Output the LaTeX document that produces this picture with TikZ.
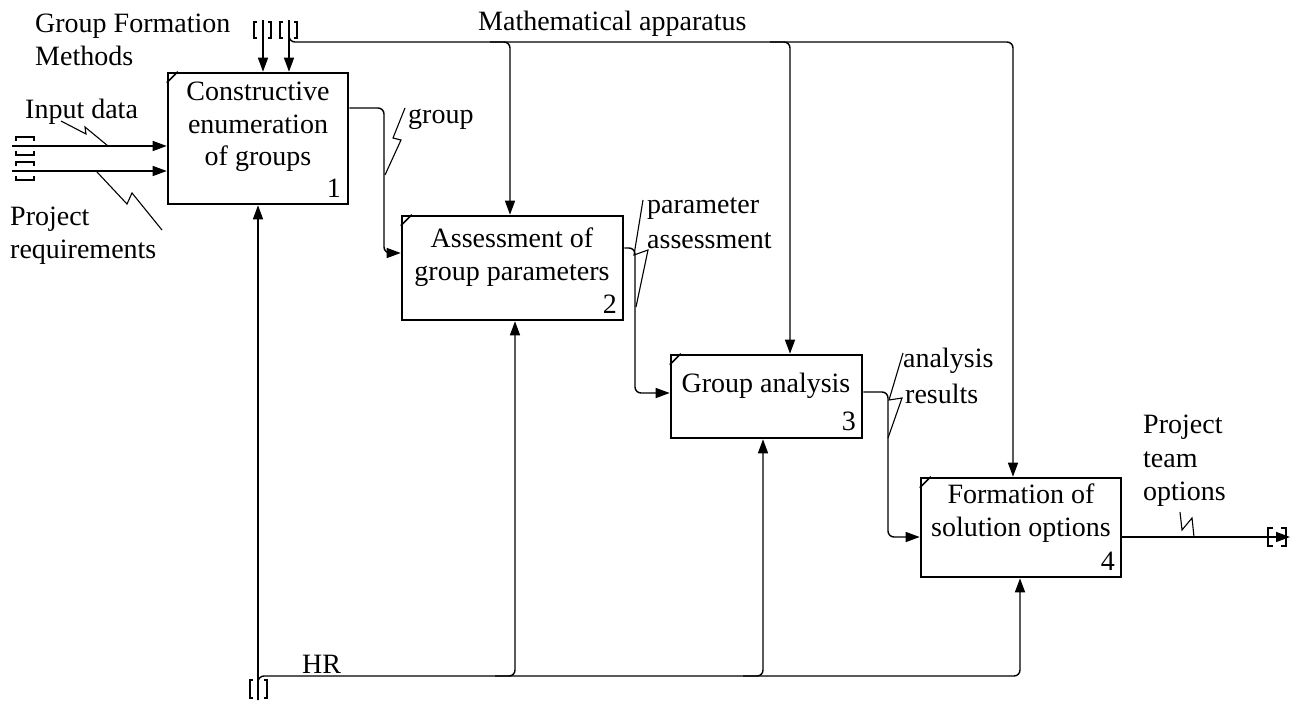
\documentclass[tikz,border=0pt]{standalone}
\usepackage{fontspec}
\setmainfont{Liberation Serif}
\usetikzlibrary{arrows.meta}
\begin{document}
\begin{tikzpicture}[x=1pt,y=-1pt,
  box/.style={draw,line width=2.6pt,inner sep=0pt},
  conn/.style={line width=1.4pt,rounded corners=6pt},
  arr/.style={conn,-{Triangle[length=14pt,width=10pt]}},
  sq/.style={line width=1.1pt},
  brk/.style={line width=1.1pt},
  lbl/.style={font=\fontsize{28}{33}\selectfont,inner sep=0pt,anchor=base west},
  ctr/.style={font=\fontsize{28}{33}\selectfont,inner sep=0pt,anchor=base},
  num/.style={font=\fontsize{28}{33}\selectfont,inner sep=0pt,anchor=base east}]
\useasboundingbox (0,0) rectangle (1293,704);
% boxes
\node[box,minimum width=180pt,minimum height=131pt] (b1) at (258,138.5) {};
\node[box,minimum width=221pt,minimum height=104pt] (b2) at (512.5,268) {};
\node[box,minimum width=191pt,minimum height=83pt] (b3) at (766.5,396.5) {};
\node[box,minimum width=200pt,minimum height=99pt] (b4) at (1021,527.5) {};
\foreach \b in {b1,b2,b3,b4}{\draw[line width=1.6pt] (\b.north west) ++(0,11) -- ++(11,-11);}
% box texts
\node[ctr] (t1a) at (258,100) {Constructive};
\node[ctr] (t1b) at (258,133) {enumeration};
\node[ctr] (t1c) at (258,165) {of groups};
\node[num] (n1) at (341,197) {1};
\node[ctr] (t2a) at (512,247) {Assessment of};
\node[ctr] (t2b) at (512,280) {group parameters};
\node[num] (n2) at (617,313) {2};
\node[ctr] (t3a) at (766,392) {Group analysis};
\node[ctr] (t3b) at (1021,503) {Formation of};
\node[ctr] (t4b) at (1021,536) {solution options};
\node[num] (n3) at (856,430) {3};
\node[num] (n4) at (1115,570) {4};
% labels
\node[lbl] (l1) at (35,32) {Group Formation};
\node[lbl] (l2) at (35,65) {Methods};
\node[lbl] (l3) at (478,30) {Mathematical apparatus};
\node[lbl] (l4) at (25,118) {Input data};
\node[lbl] (l5) at (10,225) {Project};
\node[lbl] (l6) at (10,258) {requirements};
\node[lbl] (l7) at (408,123) {group};
\node[lbl] (l8) at (647,213) {parameter};
\node[lbl] (l9) at (647,248) {assessment};
\node[lbl] (l10) at (903,367) {analysis};
\node[lbl] (l11) at (905,403) {results};
\node[lbl] (l12) at (1143,433) {Project};
\node[lbl] (l13) at (1143,467) {team};
\node[lbl] (l14) at (1143,500) {options};
\node[lbl] (l15) at (302,673) {HR};
% inputs
\coordinate (in1) at (12,146);
\coordinate (in2) at (12,171);
\draw[arr] (in1) -- (b1.west |- in1);
\draw[arr] (in2) -- (b1.west |- in2);
\foreach \yy in {146,171}{
  \draw[brk] (16,\yy-5) -- (16,\yy-9) -- (34,\yy-9) -- (34,\yy-5);
  \draw[brk] (16,\yy+5) -- (16,\yy+9) -- (34,\yy+9) -- (34,\yy+5);}
% controls
\coordinate (c1) at (263,20);
\coordinate (c2) at (289,20);
\draw[arr] (c1) -- (b1.north -| c1);
\draw[arr] (c2) -- (b1.north -| c2);
\foreach \xx in {263,289}{
  \draw[brk] (\xx-6,22) -- (\xx-9,22) -- (\xx-9,38) -- (\xx-6,38);
  \draw[brk] (\xx+5,22) -- (\xx+8,22) -- (\xx+8,38) -- (\xx+5,38);}
\draw[arr] (c2) -- (289,42) -- (1013,42) -- (b4.north -| 1013,0);
\draw[arr] (490,42) -- (510,42) -- (b2.north -| 510,0);
\draw[arr] (770,42) -- (790,42) -- (b3.north -| 790,0);
% mechanisms
\coordinate (m0) at (258,700);
\draw[arr] (m0) -- (b1.south -| m0);
\draw[arr] (m0) -- (258,676) -- (1020,676) -- (b4.south -| 1020,0);
\draw[arr] (495,676) -- (515,676) -- (b2.south -| 515,0);
\draw[arr] (743,676) -- (763,676) -- (b3.south -| 763,0);
\draw[brk] (253,680) -- (250,680) -- (250,698) -- (253,698);
\draw[brk] (264,680) -- (267,680) -- (267,698) -- (264,698);
% outputs
\draw[arr] (b1.east |- 0,108) -- (384,108) -- (384,253) -- (b2.west |- 0,253);
\draw[arr] (b2.east |- 0,248) -- (635,248) -- (635,393) -- (b3.west |- 0,393);
\draw[arr] (b3.east |- 0,392) -- (888,392) -- (888,537) -- (b4.west |- 0,537);
\coordinate (out) at (1290,537);
\draw[arr] (b4.east |- out) -- (out);
\draw[brk] (1273,528) -- (1268,528) -- (1268,546) -- (1273,546);
\draw[brk] (1281,528) -- (1286,528) -- (1286,546) -- (1281,546);
% squiggles
\draw[sq] (61,121) -- (86,134) -- (85,127) -- (108,146);
\draw[sq] (97,172) -- (127,204) -- (132,193) -- (162,230);
\draw[sq] (405,108) -- (393,138) -- (401,140) -- (385,175);
\draw[sq] (643,200) -- (634,255) -- (648,250) -- (636,307);
\draw[sq] (903,353) -- (889,400) -- (902,398) -- (888,438);
\draw[sq] (1180,512) -- (1182,530) -- (1192,518) -- (1194,537);
\end{tikzpicture}
\end{document}
